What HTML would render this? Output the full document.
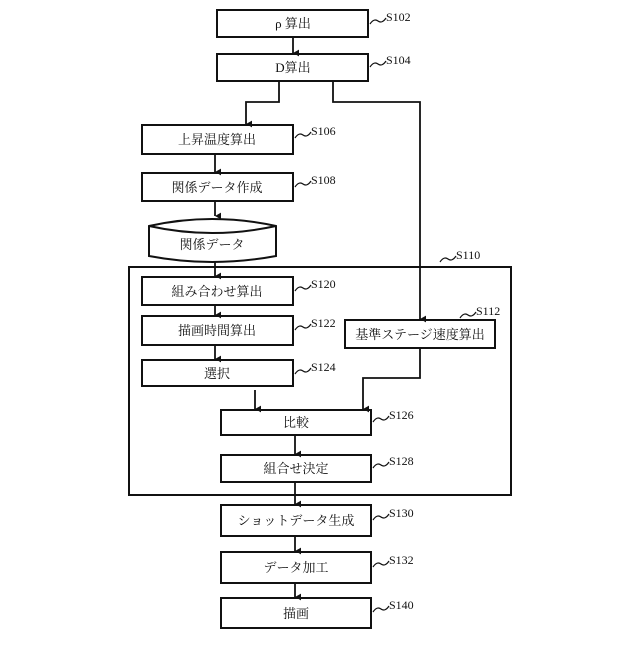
<!DOCTYPE html>
<html><head><meta charset="utf-8"><style>
body{margin:0;background:#fff}
svg text{font-family:"Liberation Serif","Noto Serif CJK SC",serif;font-size:13px;fill:#111}
.l{font-size:12px}
</style></head><body>
<svg width="640" height="640" viewBox="0 0 640 640" xmlns="http://www.w3.org/2000/svg">
<defs><marker id="a" markerWidth="8" markerHeight="8" refX="4" refY="6" orient="auto" markerUnits="userSpaceOnUse"><path d="M0,0 L8,0 L4,7 Z" fill="#111" transform="translate(0,-1)"/></marker></defs>
<g fill="none" stroke="#111" stroke-width="2">
<rect x="217" y="10" width="151" height="27"/>
<rect x="217" y="54" width="151" height="27"/>
<rect x="142" y="125" width="151" height="29"/>
<rect x="142" y="173" width="151" height="28"/>
<path d="M149,226 Q212,212 276,226 V256 Q212,268 149,256 Z"/>
<path d="M149,226 Q212,240 276,226"/>
<rect x="129" y="267" width="382" height="228"/>
<rect x="142" y="277" width="151" height="28"/>
<rect x="142" y="316" width="151" height="29"/>
<rect x="142" y="360" width="151" height="26"/>
<rect x="345" y="320" width="150" height="28"/>
<rect x="221" y="410" width="150" height="25"/>
<rect x="221" y="455" width="150" height="27"/>
<rect x="221" y="505" width="150" height="31"/>
<rect x="221" y="552" width="150" height="31"/>
<rect x="221" y="598" width="150" height="30"/>
</g>
<g fill="none" stroke="#111" stroke-width="1.8" marker-end="url(#a)">
<path d="M293,37 V53"/>
<path d="M279,81 V102 H246 V124"/>
<path d="M333,81 V102 H420 V319"/>
<path d="M215,154 V172"/>
<path d="M215,201 V216"/>
<path d="M215,262 V276"/>
<path d="M215,305 V315"/>
<path d="M215,345 V359"/>
<path d="M255,390 V409"/>
<path d="M420,348 V378 H363 V409"/>
<path d="M295,435 V454"/>
<path d="M295,482 V504"/>
<path d="M295,536 V551"/>
<path d="M295,583 V597"/>
</g>
<g fill="none" stroke="#111" stroke-width="1.2">
<path d="M370,24 q4,-6 8,-3 t8,-3"/>
<path d="M370,67 q4,-6 8,-3 t8,-3"/>
<path d="M295,138 q4,-6 8,-3 t8,-3"/>
<path d="M295,187 q4,-6 8,-3 t8,-3"/>
<path d="M440,262 q4,-6 8,-3 t8,-3"/>
<path d="M295,291 q4,-6 8,-3 t8,-3"/>
<path d="M295,330 q4,-6 8,-3 t8,-3"/>
<path d="M295,374 q4,-6 8,-3 t8,-3"/>
<path d="M460,318 q4,-6 8,-3 t8,-3"/>
<path d="M373,422 q4,-6 8,-3 t8,-3"/>
<path d="M373,468 q4,-6 8,-3 t8,-3"/>
<path d="M373,520 q4,-6 8,-3 t8,-3"/>
<path d="M373,567 q4,-6 8,-3 t8,-3"/>
<path d="M373,612 q4,-6 8,-3 t8,-3"/>
</g>
<g class="l">
<text x="386" y="21" class="l">S102</text>
<text x="386" y="64" class="l">S104</text>
<text x="311" y="135" class="l">S106</text>
<text x="311" y="184" class="l">S108</text>
<text x="456" y="259" class="l">S110</text>
<text x="311" y="288" class="l">S120</text>
<text x="311" y="327" class="l">S122</text>
<text x="311" y="371" class="l">S124</text>
<text x="476" y="315" class="l">S112</text>
<text x="389" y="419" class="l">S126</text>
<text x="389" y="465" class="l">S128</text>
<text x="389" y="517" class="l">S130</text>
<text x="389" y="564" class="l">S132</text>
<text x="389" y="609" class="l">S140</text>
</g>
<g text-anchor="middle">
<text x="293" y="28">ρ 算出</text>
<text x="293" y="72">D算出</text>
<text x="217" y="144">上昇温度算出</text>
<text x="217" y="192">関係データ作成</text>
<text x="212" y="249">関係データ</text>
<text x="217" y="296">組み合わせ算出</text>
<text x="217" y="335">描画時間算出</text>
<text x="217" y="378">選択</text>
<text x="420" y="339">基準ステージ速度算出</text>
<text x="296" y="427">比較</text>
<text x="296" y="473">組合せ決定</text>
<text x="296" y="525">ショットデータ生成</text>
<text x="296" y="572">データ加工</text>
<text x="296" y="618">描画</text>
</g>
</svg>
</body></html>
